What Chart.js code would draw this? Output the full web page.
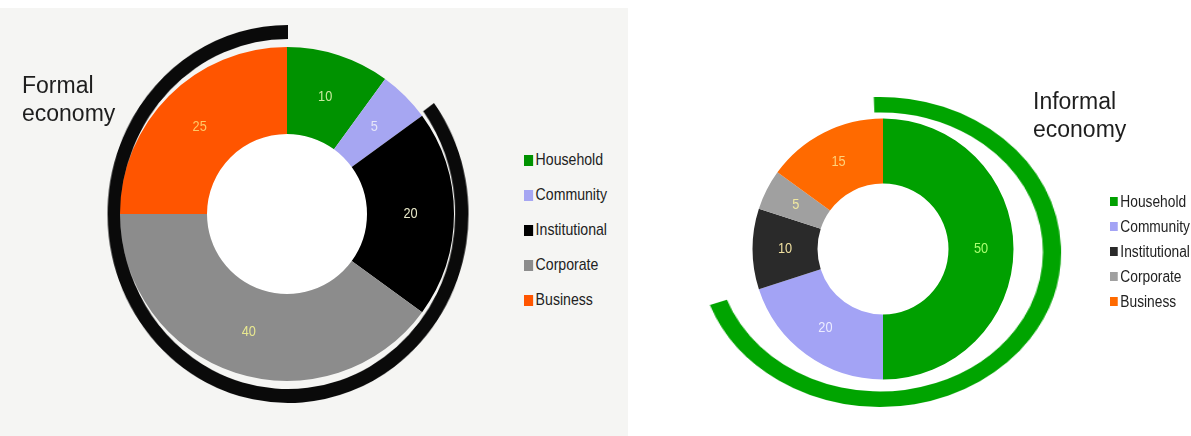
<!DOCTYPE html>
<html>
<head>
<meta charset="utf-8">
<script src="https://cdn.jsdelivr.net/npm/chart.js@4/dist/chart.umd.min.js"></script>
<style>
  body { margin: 0; width: 1191px; height: 436px; position: relative; overflow: hidden; background: #fff; }
  .abs { position: absolute; }
  #leftBg { left: 0; top: 8px; width: 628px; height: 428px; background: #f5f5f3; }
  .title { font-family: "Liberation Sans", Arial, sans-serif; font-size: 23px; line-height: 28px; color: #1e1e1e; }
  .legend { font-family: "Liberation Sans", Arial, sans-serif; color: #222; }
  .legend div { position: absolute; white-space: nowrap; transform-origin: 0 50%; }
  .legend span { display: inline-block; vertical-align: middle; }
</style>
</head>
<body>
<div id="leftBg" class="abs"></div>

<div class="abs" style="left:87.5px;top:14px;width:400px;height:400px;transform:scaleX(0.955)"><canvas id="formalArc"></canvas></div>
<div class="abs" style="left:86.5px;top:13.5px;width:400px;height:400px"><canvas id="formalChart"></canvas></div>
<div class="abs title" style="left:22px;top:71px">Formal<br>economy</div>
<div id="formalLegend" class="abs legend"></div>

<div class="abs" style="left:680px;top:51.5px;width:400px;height:400px;transform:scaleX(1.168)"><canvas id="informalArc"></canvas></div>
<div class="abs" style="left:732.5px;top:98.5px;width:300px;height:300px"><canvas id="informalChart"></canvas></div>
<div class="abs title" style="left:1033px;top:87px">Informal<br>economy</div>
<div id="informalLegend" class="abs legend"></div>

<script>
const categories = ["Household", "Community", "Institutional", "Corporate", "Business"];
const formalValues = [10, 5, 20, 40, 25];
const informalValues = [50, 20, 10, 5, 15];

// outer brackets: [uncovered, covered] / [covered, uncovered], in the same units
const formalBracket = [15, 85];     // Institutional + Corporate + Business
const informalBracket = [70, 30];   // Household + Community

const formalColors = ["#009200", "#a6a6f2", "#000000", "#8c8c8c", "#ff5500"];
const informalColors = ["#00a000", "#a3a3f5", "#2a2a2a", "#a0a0a0", "#ff6a00"];

// white hole + value in the middle of each slice (slightly condensed like the original)
const valueLabels = {
  id: "valueLabels",
  beforeDatasetsDraw(chart) {
    const arc = chart.getDatasetMeta(0).data[0];
    if (!arc) return;
    const ctx = chart.ctx;
    ctx.save();
    ctx.fillStyle = "#fff";
    ctx.beginPath();
    ctx.arc(arc.x, arc.y, arc.innerRadius, 0, Math.PI * 2);
    ctx.fill();
    ctx.restore();
  },
  afterDatasetsDraw(chart, args, opts) {
    const ctx = chart.ctx;
    const ds = chart.data.datasets[0];
    ctx.save();
    ctx.font = opts.font;
    ctx.textAlign = "center";
    ctx.textBaseline = "middle";
    chart.getDatasetMeta(0).data.forEach((arc, i) => {
      const p = arc.getCenterPoint();
      ctx.save();
      ctx.translate(p.x, p.y);
      ctx.scale(0.85, 1);
      ctx.fillStyle = opts.colors[i];
      ctx.fillText(ds.data[i], 0, 0);
      ctx.restore();
    });
    ctx.restore();
  }
};

// radius and hole given in px; chart.js wants the hole as a share of the radius
function makeDonut(id, values, colors, radius, hole, labelColors, fontPx) {
  return new Chart(document.getElementById(id), {
    type: "doughnut",
    data: {
      labels: categories,
      datasets: [{ data: values, backgroundColor: colors, borderWidth: 0 }]
    },
    options: {
      responsive: true,
      maintainAspectRatio: false,
      animation: false,
      events: [],
      radius: radius,
      cutout: (hole / radius * 100) + "%",
      plugins: {
        legend: { display: false },
        tooltip: { enabled: false },
        valueLabels: { font: fontPx + 'px "Liberation Sans", Arial', colors: labelColors }
      }
    },
    plugins: [valueLabels]
  });
}

function makeBracket(id, values, colors, radius, hole, rotation) {
  return new Chart(document.getElementById(id), {
    type: "doughnut",
    data: {
      labels: ["a", "b"],
      datasets: [{ data: values, backgroundColor: colors, borderWidth: 0 }]
    },
    options: {
      responsive: true,
      maintainAspectRatio: false,
      animation: false,
      events: [],
      rotation: rotation,
      radius: radius,
      cutout: (hole / radius * 100) + "%",
      plugins: { legend: { display: false }, tooltip: { enabled: false } }
    }
  });
}

// html legend built from the chart's own legend items
function htmlLegend(chart, el, x, y0, step, box, fontPx, squeeze) {
  const items = chart.options.plugins.legend.labels.generateLabels(chart);
  items.forEach((item, i) => {
    const row = document.createElement("div");
    row.style.left = x + "px";
    row.style.top = (y0 + i * step - fontPx * 0.6) + "px";
    row.style.fontSize = fontPx + "px";
    row.style.lineHeight = (fontPx * 1.2) + "px";
    row.style.transform = "scaleX(" + squeeze + ")";
    row.innerHTML = '<span style="width:' + box + 'px;height:' + box + 'px;margin-right:3px;background:' +
      item.fillStyle + '"></span><span>' + item.text + "</span>";
    el.appendChild(row);
  });
}

makeBracket("formalArc", formalBracket, ["rgba(0,0,0,0)", "#0a0a0a"], 189, 175, 0);
const formal = makeDonut("formalChart", formalValues, formalColors, 167, 80,
  ["#c9eaa0", "#e6e6f8", "#e8e8c8", "#e8e890", "#ffc966"], 15);
htmlLegend(formal, document.getElementById("formalLegend"), 524, 160, 35, 11, 17, 0.83);

makeBracket("informalArc", informalBracket, ["#00a400", "rgba(0,0,0,0)"], 155, 139.5, -2);
const informal = makeDonut("informalChart", informalValues, informalColors, 130.5, 65.5,
  ["#a8ff70", "#ececff", "#f0e0a0", "#f0e8a0", "#ffd27a"], 15);
htmlLegend(informal, document.getElementById("informalLegend"), 1110, 200, 25, 9, 16, 0.86);
</script>
</body>
</html>
